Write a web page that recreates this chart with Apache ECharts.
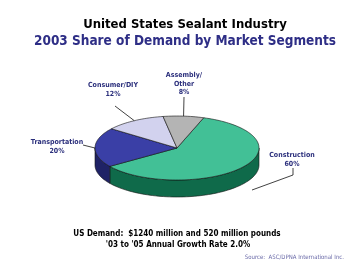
<!DOCTYPE html>
<html><head><meta charset="utf-8">
<script src="https://cdn.jsdelivr.net/npm/echarts@6/dist/echarts.min.js"></script>
<style>html,body{margin:0;padding:0;background:#fff}#c{width:350px;height:262px}</style>
</head><body><div id="c"></div>
<script>
// ---- data ----
const categories = ['Construction', 'Transportation', 'Consumer/DIY', 'Assembly/\nOther'];
const values = [60, 20, 12, 8];
const titleText = 'United States Sealant Industry';
const subtitleText = '2003 Share of Demand by Market Segments';
const footer1 = 'US Demand:  $1240 million and 520 million pounds';
const footer2 = "'03 to '05 Annual Growth Rate 2.0%";
const sourceText = 'Source:  ASC/DPNA International Inc.';

// ---- styles / layout ----
const topColors = ['#42c096', '#3a3fa6', '#d2d2ee', '#b4b4b4'];
const sideColors = ['#0f6a4a', '#1f2266', '#9a9ab8', '#7f7f7f'];
const FONT = '"DejaVu Sans Condensed", "DejaVu Sans", sans-serif';
const G = { cx: 177, cy: 148, rx: 82, ry: 32, depth: 17, start: 19 };
// label anchor positions and leader end points (layout)
const labelPos = [
  { x: 292, y: 151, line: [[293, 168], [293, 175], [252, 190]] },
  { x: 57, y: 138, line: [[83, 145], [95, 148]] },
  { x: 113, y: 81, line: [[115, 106], [null, null]] },
  { x: 184, y: 71, line: [[184, 97], [null, null]] }
];

const total = values.reduce((a, b) => a + b, 0);
function angles(i) {
  let s = G.start;
  for (let k = 0; k < i; k++) s += values[k] / total * 360;
  return [s, s + values[i] / total * 360];
}
function pt(deg, dy) {
  const r = deg * Math.PI / 180;
  return [G.cx + G.rx * Math.sin(r), G.cy - G.ry * Math.cos(r) + (dy || 0)];
}
function arcPts(s, e, dy) {
  const pts = [];
  const n = Math.max(2, Math.ceil(Math.abs(e - s) / 2));
  for (let k = 0; k <= n; k++) pts.push(pt(s + (e - s) * k / n, dy));
  return pts;
}

function renderSide(params, api) {
  const i = params.dataIndex;
  const [s, e] = angles(i);
  const children = [];
  [-360, 0, 360].forEach(off => {
    const a = Math.max(s + off, 90), b = Math.min(e + off, 270);
    if (b > a) {
      const top = arcPts(a, b, 0);
      const bot = arcPts(b, a, G.depth);
      children.push({ type: 'polygon', shape: { points: top.concat(bot) },
        style: { fill: sideColors[i], stroke: '#111', lineWidth: 0.6 } });
    }
  });
  return { type: 'group', children };
}

function renderTop(params, api) {
  const i = params.dataIndex;
  const [s, e] = angles(i);
  const pts = [[G.cx, G.cy]].concat(arcPts(s, e, 0));
  return { type: 'polygon', shape: { points: pts },
    style: { fill: topColors[i], stroke: '#111', lineWidth: 0.6 } };
}

function renderLabel(params, api) {
  const i = params.dataIndex;
  const [s, e] = angles(i);
  const mid = (s + e) / 2;
  const L = labelPos[i];
  const linePts = L.line.map(p => p[0] === null ? pt(mid, 0) : p);
  const pct = Math.round(api.value(0) / total * 100) + '%';
  return { type: 'group', children: [
    { type: 'polyline', shape: { points: linePts }, style: { stroke: '#111', lineWidth: 0.8, fill: null } },
    { type: 'text', style: { text: categories[i] + '\n' + pct, x: L.x, y: L.y, align: 'center', verticalAlign: 'top',
      fill: '#2b2f7c', font: 'bold 7px ' + FONT, lineHeight: 8.5 } }
  ] };
}

const chart = echarts.init(document.getElementById('c'), null, { renderer: 'canvas' });
chart.setOption({
  backgroundColor: '#fff',
  animation: false,
  title: [
    { text: titleText, left: 180, top: 13, textAlign: 'center',
      textStyle: { fontFamily: FONT, fontWeight: 'bold', fontSize: 13, color: '#000' } },
    { text: subtitleText, left: 180, top: 29, textAlign: 'center',
      textStyle: { fontFamily: FONT, fontWeight: 'bold', fontSize: 13.5, color: '#2e2e86' } },
    { text: footer1, left: 172, top: 225, textAlign: 'center',
      textStyle: { fontFamily: FONT, fontWeight: 'bold', fontSize: 8, color: '#000' } },
    { text: footer2, left: 173, top: 236, textAlign: 'center',
      textStyle: { fontFamily: FONT, fontWeight: 'bold', fontSize: 8, color: '#000' } },
    { text: sourceText, right: 1, top: 249,
      textStyle: { fontFamily: FONT, fontWeight: 'normal', fontSize: 6, color: '#6a6aa8' } }
  ],
  series: [
    { type: 'custom', coordinateSystem: 'none', z: 1, data: values.map(v => [v]), renderItem: renderSide, silent: true },
    { type: 'custom', coordinateSystem: 'none', z: 2, data: values.map(v => [v]), renderItem: renderTop, silent: true },
    { type: 'custom', coordinateSystem: 'none', z: 3, data: values.map(v => [v]), renderItem: renderLabel, silent: true }
  ]
});
</script></body></html>
